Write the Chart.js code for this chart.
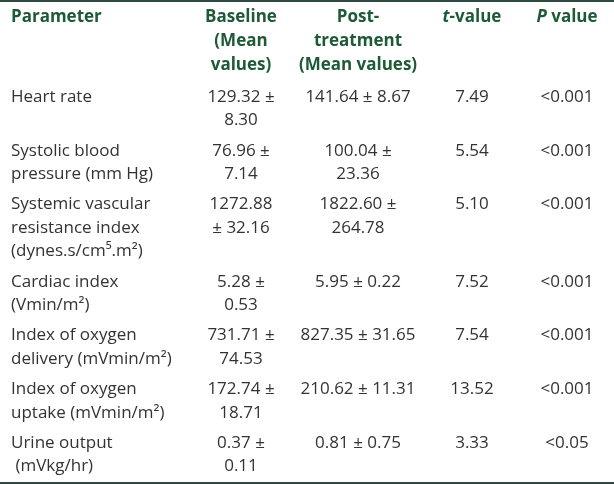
<!DOCTYPE html>
<html>
<head>
<meta charset="utf-8">
<script src="https://cdn.jsdelivr.net/npm/chart.js@4"></script>
<style>
  html, body { margin: 0; padding: 0; background: #fff; }
  #wrap { width: 614px; height: 484px; position: relative; }
</style>
</head>
<body>
<div id="wrap"><canvas id="myChart"></canvas></div>
<script>
// Table content (line breaks as they wrap in it)
const headers = ['Parameter', 'Baseline\n(Mean\nvalues)', 'Post-\ntreatment\n(Mean values)', 't-value', 'P value'];
const italicLead = [false, false, false, true, true]; // t and P set in italics
const parameters = [
  'Heart rate',
  'Systolic blood\npressure (mm Hg)',
  'Systemic vascular\nresistance index\n(dynes.s/cm\u2075.m\u00b2)',
  'Cardiac index\n(Vmin/m\u00b2)',
  'Index of oxygen\ndelivery (mVmin/m\u00b2)',
  'Index of oxygen\nuptake (mVmin/m\u00b2)',
  'Urine output\n (mVkg/hr)'
];
const baseline = ['129.32 \u00b1\n8.30', '76.96 \u00b1\n7.14', '1272.88\n\u00b1 32.16', '5.28 \u00b1\n0.53', '731.71 \u00b1\n74.53', '172.74 \u00b1\n18.71', '0.37 \u00b1\n0.11'];
const postTreatment = ['141.64 \u00b1 8.67', '100.04 \u00b1\n23.36', '1822.60 \u00b1\n264.78', '5.95 \u00b1 0.22', '827.35 \u00b1 31.65', '210.62 \u00b1 11.31', '0.81 \u00b1 0.75'];
const tValues = ['7.49', '5.54', '5.10', '7.52', '7.54', '13.52', '3.33'];
const pValues = ['<0.001', '<0.001', '<0.001', '<0.001', '<0.001', '<0.001', '<0.05'];

// layout
const colX = [11, 241, 358, 472, 567];
const colAlign = ['left', 'center', 'center', 'center', 'center'];
const HEAD_Y = 17, HEAD_LINE = 24;
const BODY_Y = 97, LINE = 23.4, ROW_GAP = 7;
const headColor = '#1e5a36';
const bodyColor = '#333333';
const ruleColor = '#2f4a42';
const bodyFont = '17px "Open Sans"';
const headFont = 'bold 17px "Open Sans"';

const columns = [parameters, baseline, postTreatment, tValues, pValues];

// first-line y of each body row, from the number of lines in its cells
const rowY = [];
let y = BODY_Y;
parameters.forEach((p, i) => {
  rowY.push(y);
  const n = Math.max(...columns.map(c => c[i].split('\n').length));
  y += n * LINE + ROW_GAP;
});

const datasets = columns.map((col, c) => ({
  label: headers[c],
  texts: col,
  data: col.map((v, i) => ({ x: colX[c], y: rowY[i] })),
  pointRadius: 0,
  pointHoverRadius: 0
}));
// header cells as one more dataset
datasets.push({
  label: 'header',
  texts: headers,
  isHeader: true,
  data: headers.map((h, c) => ({ x: colX[c], y: HEAD_Y })),
  pointRadius: 0,
  pointHoverRadius: 0
});

const tablePlugin = {
  id: 'tableText',
  afterDatasetsDraw(chart) {
    const ctx = chart.ctx;
    const yScale = chart.scales.y;
    ctx.save();
    // top and bottom rules
    ctx.fillStyle = ruleColor;
    ctx.fillRect(0, yScale.getPixelForValue(0), chart.width, 2);
    ctx.fillRect(0, yScale.getPixelForValue(482), chart.width, 2);
    ctx.textBaseline = 'middle';
    chart.data.datasets.forEach((ds, d) => {
      const meta = chart.getDatasetMeta(d);
      meta.data.forEach((pt, i) => {
        const c = ds.isHeader ? i : d;
        const lines = ds.texts[i].split('\n');
        ctx.textAlign = colAlign[c];
        lines.forEach((line, k) => {
          const py = pt.y + k * (ds.isHeader ? HEAD_LINE : LINE);
          if (ds.isHeader) {
            ctx.fillStyle = headColor;
            if (italicLead[c]) {
              const lead = line.charAt(0), rest = line.slice(1);
              ctx.font = 'italic ' + headFont;
              const w1 = ctx.measureText(lead).width;
              ctx.font = headFont;
              const w2 = ctx.measureText(rest).width;
              const x0 = pt.x - (w1 + w2) / 2;
              ctx.textAlign = 'left';
              ctx.font = 'italic ' + headFont;
              ctx.fillText(lead, x0, py);
              ctx.font = headFont;
              ctx.fillText(rest, x0 + w1, py);
            } else {
              ctx.font = headFont;
              ctx.fillText(line, pt.x, py);
            }
          } else {
            ctx.fillStyle = bodyColor;
            ctx.font = bodyFont;
            ctx.fillText(line, pt.x, py);
          }
        });
      });
    });
    ctx.restore();
  }
};

new Chart(document.getElementById('myChart'), {
  type: 'scatter',
  data: { datasets: datasets },
  options: {
    responsive: true,
    maintainAspectRatio: false,
    animation: false,
    layout: { padding: 0 },
    plugins: { legend: { display: false }, tooltip: { enabled: false } },
    scales: {
      x: { type: 'linear', min: 0, max: 614, display: false },
      y: { type: 'linear', min: 0, max: 484, reverse: true, display: false }
    }
  },
  plugins: [tablePlugin]
});
</script>
</body>
</html>
